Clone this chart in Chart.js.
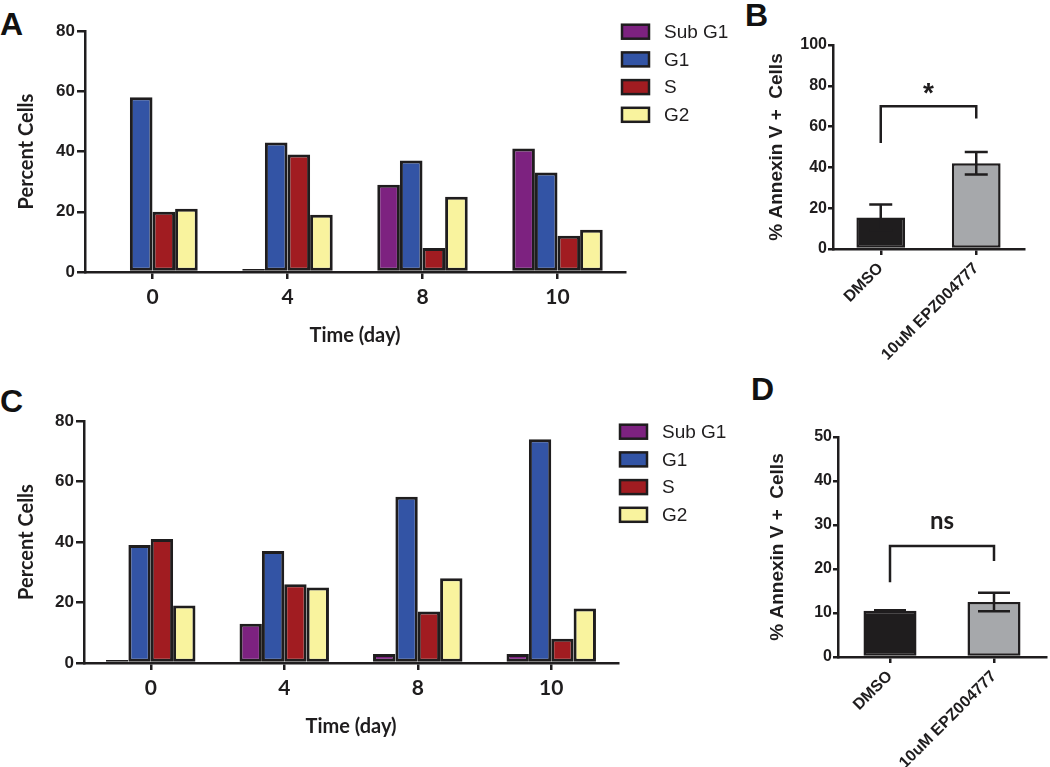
<!DOCTYPE html>
<html>
<head>
<meta charset="utf-8">
<script src="https://cdn.jsdelivr.net/npm/chart.js@4.4.1/dist/chart.umd.min.js"></script>
<style>
  html, body { margin: 0; padding: 0; background: #fff; }
  #fig { position: relative; width: 1050px; height: 767px; overflow: hidden; background: #fff; }
  .panel { position: absolute; }
  .tag { position: absolute; font: bold 32px/32px "Liberation Sans", Arial, sans-serif; color: #111; }
</style>
</head>
<body>
<div id="fig">
  <div class="tag" style="left:0px;top:8px">A</div>
  <div class="tag" style="left:745px;top:-1px">B</div>
  <div class="tag" style="left:0px;top:385px">C</div>
  <div class="tag" style="left:751px;top:373px">D</div>
  <canvas class="panel" id="chartA" width="740" height="370" style="left:0;top:0"></canvas>
  <canvas class="panel" id="chartB" width="310" height="375" style="left:740px;top:0"></canvas>
  <canvas class="panel" id="chartC" width="740" height="387" style="left:0;top:380px"></canvas>
  <canvas class="panel" id="chartD" width="310" height="387" style="left:740px;top:380px"></canvas>
</div>
<script>
// cell cycle panels (A, C)
const days = ['0', '4', '8', '10'];
const phases = ['Sub G1', 'G1', 'S', 'G2'];
const phaseColors = ['#7d2280', '#3354a5', '#a11c21', '#f9f39e'];

const subG1A = [0, 1, 29, 41];
const g1A = [58, 43, 37, 33];
const sA = [20, 39, 8, 12];
const g2A = [21, 19, 25, 14];

const subG1C = [1, 13, 3, 3];
const g1C = [39, 37, 55, 74];
const sC = [41, 26, 17, 8];
const g2C = [19, 25, 28, 18];

// annexin V panels (B, D)
const treatments = ['DMSO', '10uM EPZ004777'];
const treatmentColors = ['#1f1d1e', '#a6a8ab'];
const annexinB = [15.5, 42];
const annexinBErr = [6.3, 5.5];
const annexinD = [10.5, 12.5];
const annexinDErr = [0.1, 2.1];

const sigB = { text: '*', top: 70, leftEnd: 52, rightEnd: 64, textAt: 72 };
const sigD = { text: 'ns', top: 25.2, leftEnd: 17, rightEnd: 21.8, textAt: 29.1 };

const INK = '#1f1d1e';
const ARIAL = '"Liberation Sans", Arial, sans-serif';
const CAL = 'Lato, "Open Sans", sans-serif';

Chart.defaults.color = INK;
Chart.defaults.animation = false;

const sideLegend = {
  id: 'sideLegend',
  afterDraw(chart, args, opts) {
    if (!opts.display) return;
    const ctx = chart.ctx;
    ctx.save();
    ctx.font = '19px ' + ARIAL;
    ctx.textBaseline = 'middle';
    chart.data.datasets.forEach((ds, i) => {
      const yc = opts.y + i * opts.gap;
      ctx.fillStyle = ds.backgroundColor;
      ctx.fillRect(opts.x, yc - 7, 27, 14);
      ctx.lineWidth = 2.5;
      ctx.strokeStyle = INK;
      ctx.strokeRect(opts.x, yc - 7, 27, 14);
      ctx.fillStyle = INK;
      ctx.fillText(ds.label, opts.x + opts.textGap, yc + 1);
    });
    ctx.restore();
  }
};

const compare = {
  id: 'compare',
  afterDatasetsDraw(chart, args, opts) {
    if (!opts.errors) return;
    const { ctx } = chart;
    const y = chart.scales.y;
    const bars = chart.getDatasetMeta(0).data;
    const vals = chart.data.datasets[0].data;
    ctx.save();
    ctx.strokeStyle = INK;
    ctx.lineWidth = 2.5;
    bars.forEach((bar, i) => {
      const hi = y.getPixelForValue(vals[i] + opts.errors[i]);
      const lo = y.getPixelForValue(vals[i] - opts.errors[i]);
      const half = opts.cap / 2;
      ctx.beginPath();
      ctx.moveTo(bar.x, hi); ctx.lineTo(bar.x, lo);
      ctx.moveTo(bar.x - half, hi); ctx.lineTo(bar.x + half, hi);
      ctx.moveTo(bar.x - half, lo); ctx.lineTo(bar.x + half, lo);
      ctx.stroke();
    });
    const s = opts.sig;
    const x0 = bars[0].x, x1 = bars[1].x;
    const top = y.getPixelForValue(s.top);
    ctx.beginPath();
    ctx.moveTo(x0, y.getPixelForValue(s.leftEnd));
    ctx.lineTo(x0, top);
    ctx.lineTo(x1, top);
    ctx.lineTo(x1, y.getPixelForValue(s.rightEnd));
    ctx.stroke();
    ctx.fillStyle = INK;
    ctx.font = opts.font;
    ctx.textAlign = 'center';
    ctx.textBaseline = 'alphabetic';
    ctx.fillText(s.text, (x0 + x1) / 2, y.getPixelForValue(s.textAt));
    ctx.restore();
  }
};

function cycleChart(id, series, box) {
  return new Chart(document.getElementById(id), {
    type: 'bar',
    data: {
      labels: days,
      datasets: series.map((data, i) => ({
        label: phases[i],
        data,
        backgroundColor: phaseColors[i],
        borderColor: INK,
        borderWidth: 3,
        borderSkipped: false
      }))
    },
    options: {
      responsive: false,
      layout: { padding: box.pad },
      categoryPercentage: 0.67,
      barPercentage: 1,
      plugins: {
        legend: { display: false },
        tooltip: { enabled: false },
        sideLegend: { display: true, x: box.legX, y: box.legY, gap: 27.7, textGap: box.textGap }
      },
      scales: {
        x: {
          afterFit: s => { s.height = box.xh; },
          grid: { offset: false, drawOnChartArea: false, tickLength: 7, lineWidth: 2.5, color: INK },
          border: { color: INK, width: 2.5 },
          ticks: { font: { family: CAL, size: 21, weight: 'bold' }, padding: 6, maxRotation: 0 },
          title: { display: true, text: 'Time (day)', font: { family: CAL, size: 20, weight: 'bold' }, padding: 0 }
        },
        y: {
          min: 0, max: 80,
          afterFit: s => { s.width = box.yw; },
          grid: { drawOnChartArea: false, tickLength: 8, lineWidth: 2.5, color: INK },
          border: { color: INK, width: 2.5 },
          ticks: { stepSize: 20, font: { family: ARIAL, size: 17, weight: 'bold' }, padding: 2 },
          title: { display: true, text: 'Percent Cells', font: { family: CAL, size: 20, weight: 'bold' }, padding: 0 }
        }
      }
    },
    plugins: [sideLegend]
  });
}

function annexinChart(id, values, errors, sig, yMax, step, box) {
  return new Chart(document.getElementById(id), {
    type: 'bar',
    data: {
      labels: treatments,
      datasets: [{
        data: values,
        backgroundColor: treatmentColors,
        borderColor: INK,
        borderWidth: 2.5,
        borderSkipped: false
      }]
    },
    options: {
      responsive: false,
      layout: { padding: box.pad },
      categoryPercentage: 1,
      barPercentage: 0.51,
      plugins: {
        legend: { display: false },
        tooltip: { enabled: false },
        compare: { errors, cap: box.cap, sig, font: box.sigFont }
      },
      scales: {
        x: {
          afterFit: s => { s.height = box.xh; },
          grid: { offset: false, drawOnChartArea: false, tickLength: 6, lineWidth: 2.5, color: INK },
          border: { color: INK, width: 2.5 },
          ticks: { font: { family: ARIAL, size: 16, weight: 'bold' }, padding: 4, minRotation: 45, maxRotation: 45, autoSkip: false }
        },
        y: {
          min: 0, max: yMax,
          afterFit: s => { s.width = box.yw; },
          grid: { drawOnChartArea: false, tickLength: 5, lineWidth: 2.5, color: INK },
          border: { color: INK, width: 2.5 },
          ticks: { stepSize: step, font: { family: ARIAL, size: 16, weight: 'bold' }, padding: 1 },
          title: { display: true, text: '% Annexin V +  Cells', font: { family: ARIAL, size: 19, weight: 'bold' }, padding: 0 }
        }
      }
    },
    plugins: [compare]
  });
}

cycleChart('chartA', [subG1A, g1A, sA, g2A], {
  pad: { left: 15, top: 31, right: 115, bottom: 22 }, yw: 70, xh: 76,
  legX: 622, legY: 31.7, textGap: 42
});
cycleChart('chartC', [subG1C, g1C, sC, g2C], {
  pad: { left: 15, top: 41, right: 122, bottom: 28 }, yw: 69, xh: 76,
  legX: 620, legY: 51.7, textGap: 42
});
annexinChart('chartB', annexinB, annexinBErr, sigB, 100, 20, {
  pad: { left: 25, top: 45, right: 26, bottom: 0 }, yw: 68, xh: 126,
  cap: 23, sigFont: 'bold 28px ' + ARIAL
});
annexinChart('chartD', annexinD, annexinDErr, sigD, 50, 10, {
  pad: { left: 26, top: 57, right: 4, bottom: 0 }, yw: 72, xh: 110,
  cap: 32, sigFont: 'bold 24px ' + CAL
});
</script>
</body>
</html>
